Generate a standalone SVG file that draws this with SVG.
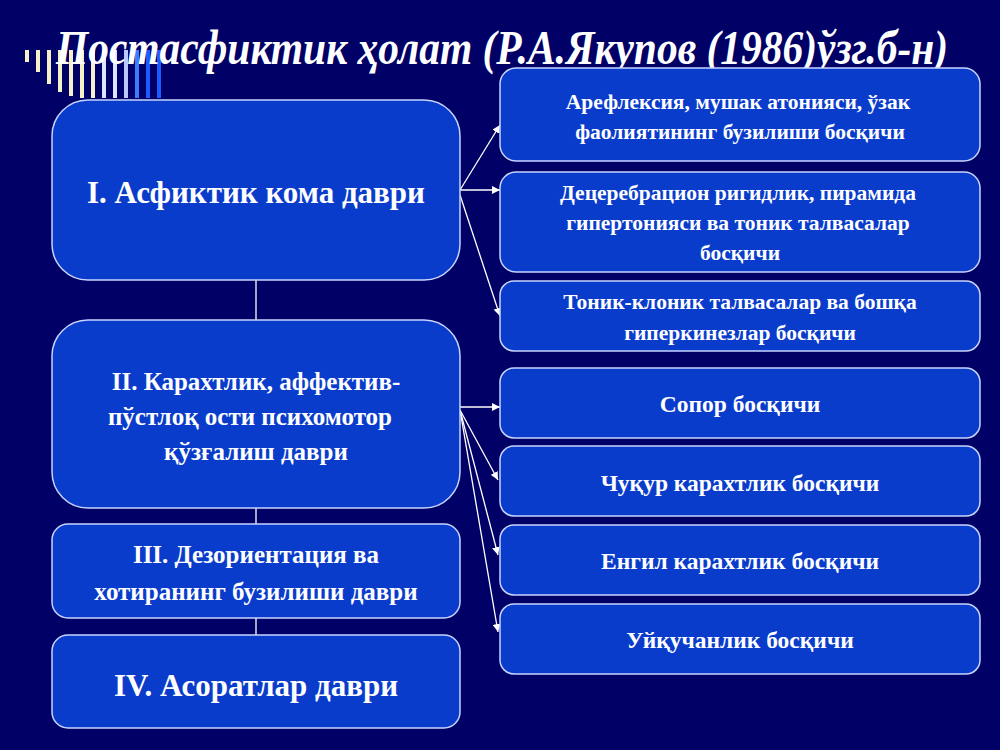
<svg xmlns="http://www.w3.org/2000/svg" width="1000" height="750" viewBox="0 0 1000 750">
<defs>
<style>
.b{fill:#0a3ccc;stroke:#c8d4ff;stroke-width:1.5}
.t{fill:#fff;font-family:"Liberation Serif",serif;font-weight:bold;text-anchor:middle}
.c line{stroke:#fff;stroke-width:1.3}
</style>
<marker id="a" viewBox="0 0 10 10" refX="10" refY="5" markerWidth="8" markerHeight="8" orient="auto" markerUnits="userSpaceOnUse"><path d="M0,0L10,5L0,10z" fill="#fff"/></marker>
</defs>
<rect width="1000" height="750" fill="#000066"/>
<g id="deco" stroke-width="4">
<line x1="27" y1="50" x2="27" y2="62" stroke="#f5f0c8"/>
<line x1="38" y1="50" x2="38" y2="72" stroke="#f5f0c8"/>
<line x1="49" y1="50" x2="49" y2="84" stroke="#f5f0c8"/>
<line x1="60" y1="50" x2="60" y2="92" stroke="#f5f0c8"/>
<line x1="71" y1="50" x2="71" y2="96" stroke="#f5f0c8"/>
<line x1="82" y1="50" x2="82" y2="98" stroke="#f5f0c8"/>
<line x1="93" y1="50" x2="93" y2="98" stroke="#f5f0c8"/>
<line x1="104" y1="50" x2="104" y2="98" stroke="#dde4ff"/>
<line x1="115" y1="50" x2="115" y2="98" stroke="#dde4ff"/>
<line x1="126" y1="50" x2="126" y2="98" stroke="#b8c8ff"/>
<line x1="137" y1="50" x2="137" y2="98" stroke="#3d7cff"/>
<line x1="148" y1="50" x2="148" y2="98" stroke="#1a5cff"/>
<line x1="159" y1="50" x2="159" y2="98" stroke="#1a5cff"/>
</g>
<text x="502" y="64" fill="#fff" font-family="Liberation Serif,serif" font-style="italic" font-weight="bold" font-size="48" text-anchor="middle" textLength="892" lengthAdjust="spacingAndGlyphs">Постасфиктик ҳолат (Р.А.Якупов (1986)ўзг.б-н)</text>
<g class="c">
<line x1="256" y1="280" x2="256" y2="320"/>
<line x1="256" y1="508" x2="256" y2="524"/>
<line x1="256" y1="618" x2="256" y2="635"/>
<line x1="460" y1="190" x2="500" y2="125" marker-end="url(#a)"/>
<line x1="460" y1="190" x2="500" y2="190" marker-end="url(#a)"/>
<line x1="460" y1="195" x2="500" y2="316" marker-end="url(#a)"/>
<line x1="460" y1="407" x2="500" y2="407" marker-end="url(#a)"/>
<line x1="460" y1="410" x2="498" y2="480" marker-end="url(#a)"/>
<line x1="460" y1="410" x2="498" y2="555" marker-end="url(#a)"/>
<line x1="460" y1="410" x2="498" y2="632" marker-end="url(#a)"/>
</g>
<g id="n1"><rect class="b" x="52" y="100" width="408" height="180" rx="36"/><text class="t" x="256" y="203" font-size="31">I. Асфиктик кома даври</text></g>
<g id="n2"><rect class="b" x="52" y="320" width="408" height="188" rx="36"/><text class="t" font-size="25"><tspan x="256" y="390">II. Карахтлик, аффектив-</tspan><tspan x="250" y="425">пўстлоқ ости психомотор</tspan><tspan x="256" y="460">қўзғалиш даври</tspan></text></g>
<g id="n3"><rect class="b" x="52" y="524" width="408" height="94" rx="16"/><text class="t" font-size="25"><tspan x="256" y="563">III. Дезориентация ва</tspan><tspan x="256" y="600">хотиранинг бузилиши даври</tspan></text></g>
<g id="n4"><rect class="b" x="52" y="635" width="408" height="93" rx="16"/><text class="t" x="256" y="696" font-size="31">IV. Асоратлар даври</text></g>
<g id="r1"><rect class="b" x="500" y="68" width="480" height="93" rx="16"/><text class="t" font-size="21.5"><tspan x="738" y="109">Арефлексия, мушак атонияси, ўзак</tspan><tspan x="740" y="139">фаолиятининг бузилиши босқичи</tspan></text></g>
<g id="r2"><rect class="b" x="500" y="172" width="480" height="100" rx="16"/><text class="t" font-size="21.5"><tspan x="738" y="200">Децеребрацион ригидлик, пирамида</tspan><tspan x="738" y="230">гипертонияси ва тоник талвасалар</tspan><tspan x="740" y="260">босқичи</tspan></text></g>
<g id="r3"><rect class="b" x="500" y="281" width="480" height="70" rx="14"/><text class="t" font-size="21.5"><tspan x="740" y="309">Тоник-клоник талвасалар ва бошқа</tspan><tspan x="740" y="340">гиперкинезлар босқичи</tspan></text></g>
<g id="r4"><rect class="b" x="500" y="368" width="480" height="70" rx="14"/><text class="t" x="740" y="412" font-size="23.5">Сопор босқичи</text></g>
<g id="r5"><rect class="b" x="500" y="446" width="480" height="70" rx="14"/><text class="t" x="740" y="491" font-size="23.5">Чуқур карахтлик босқичи</text></g>
<g id="r6"><rect class="b" x="500" y="525" width="480" height="70" rx="14"/><text class="t" x="740" y="569" font-size="23.5">Енгил карахтлик босқичи</text></g>
<g id="r7"><rect class="b" x="500" y="604" width="480" height="70" rx="14"/><text class="t" x="740" y="648" font-size="23.5">Уйқучанлик босқичи</text></g>
</svg>
